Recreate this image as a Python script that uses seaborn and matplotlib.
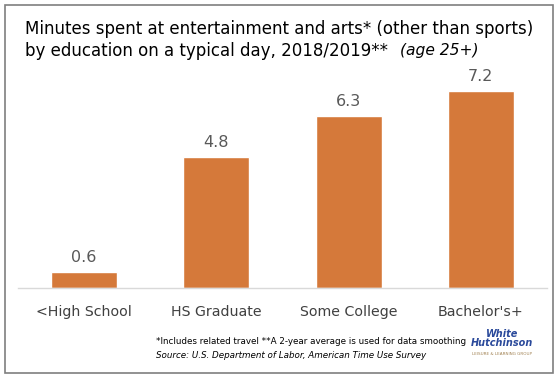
import matplotlib
matplotlib.use("Agg")
import matplotlib.pyplot as plt
import seaborn as sns
import pandas as pd
from matplotlib.patches import Rectangle

categories = ["<High School", "HS Graduate", "Some College", "Bachelor's+"]
minutes = [0.6, 4.8, 6.3, 7.2]
value_labels = ["0.6", "4.8", "6.3", "7.2"]

sns.set_theme(style="white")
plt.rcParams['font.family'] = ['DejaVu Sans']

df = pd.DataFrame({"cat": categories, "val": minutes})

fig = plt.figure(figsize=(5.6, 3.8), dpi=100)
fig.patch.set_facecolor("white")
fig.patches.append(Rectangle((5/560, 1-373/380), 548/560, 368/380, transform=fig.transFigure,
                             fill=False, edgecolor="#7f7f7f", linewidth=1.2))

ax = fig.add_axes([18/560, 1-288/380, 529/560, 219/380])
sns.barplot(data=df, x="cat", y="val", color="#D5793A", width=0.5, saturation=1, ax=ax)
ax.set_xlim(-0.5, 3.5)
ax.set_ylim(0, 8)
ax.set_xlabel("")
ax.set_ylabel("")
ax.set_yticks([])
for s in ["top", "left", "right"]:
    ax.spines[s].set_visible(False)
ax.spines["bottom"].set_color("#d9d9d9")
ax.spines["bottom"].set_linewidth(1)
ax.tick_params(axis="x", length=0, pad=12, labelsize=10.2, labelcolor="#404040")
ax.set_facecolor("none")

for i, (v, lab) in enumerate(zip(minutes, value_labels)):
    ax.annotate(lab, (i, v), xytext=(0, 5), textcoords="offset points",
                ha="center", va="bottom", fontsize=11.5, color="#595959")

fig.text(25/560, 1-29/380, "Minutes spent at entertainment and arts* (other than sports)",
         fontsize=12.0, color="black", va="center", ha="left")
t2 = fig.text(25/560, 1-51/380, "by education on a typical day, 2018/2019**",
              fontsize=12.0, color="black", va="center", ha="left")
ax.annotate("(age 25+)", xy=(1, 0.5), xycoords=t2, xytext=(9, 0), textcoords="offset points",
            fontsize=11.2, style="italic", color="black", va="center", ha="left",
            annotation_clip=False)

fig.text(156/560, 1-341/380, "*Includes related travel **A 2-year average is used for data smoothing",
         fontsize=6.3, color="black", va="center", ha="left")
fig.text(156/560, 1-356/380, "Source: U.S. Department of Labor, American Time Use Survey",
         fontsize=6.3, style="italic", color="black", va="center", ha="left")

fig.text(502/560, 1-334/380, "White", fontsize=7, style="italic", weight="bold",
         color="#2b4a9b", va="center", ha="center")
fig.text(502/560, 1-343/380, "Hutchinson", fontsize=7, style="italic", weight="bold",
         color="#2b4a9b", va="center", ha="center")
fig.text(502/560, 1-354/380, "LEISURE & LEARNING GROUP", fontsize=3,
         color="#a08050", va="center", ha="center")

fig.savefig("out.png", dpi=100)
